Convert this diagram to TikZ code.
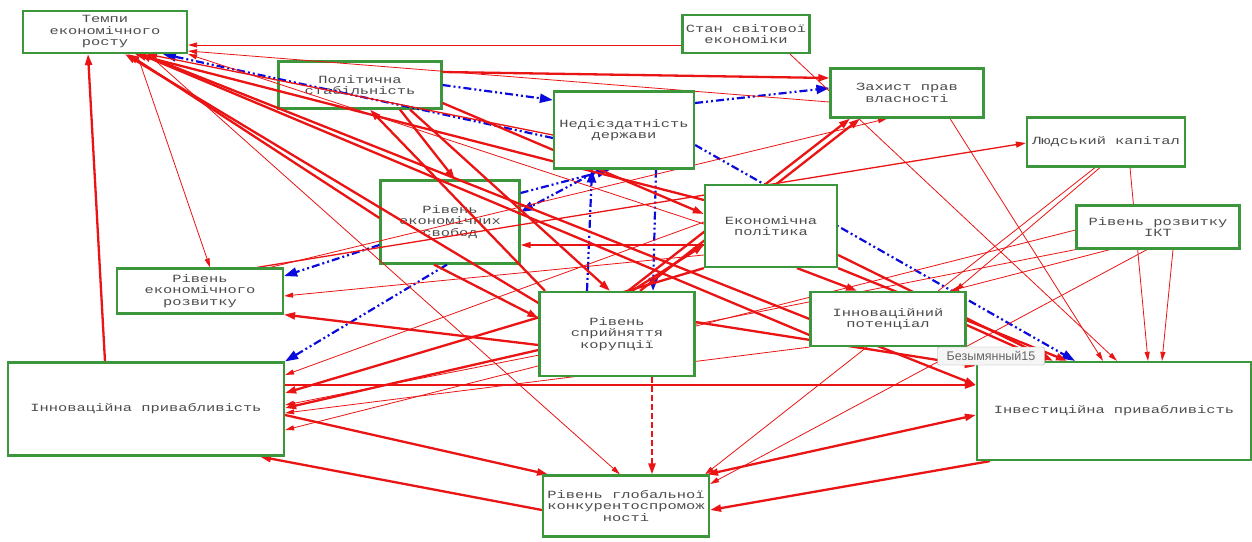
\documentclass[tikz,border=0pt]{standalone}
\usepackage{fontspec}
\setmainfont{Liberation Mono}[FakeStretch=1.4]
\newfontfamily\tipfont{Liberation Sans}
\usetikzlibrary{arrows.meta}
\definecolor{boxgreen}{RGB}{60,150,60}
\definecolor{lnred}{RGB}{235,20,20}
\definecolor{lnblue}{RGB}{10,10,220}
\pgfdeclarelayer{fg}
\pgfsetlayers{main,fg}
\begin{document}
\begin{tikzpicture}[x=1pt,y=-1pt,
  box/.style={draw=boxgreen, line width=2.2pt, fill=white, align=center, inner sep=1pt,
    font=\fontsize{11}{11.5}\selectfont, text=black!70},
  thk/.style={draw=lnred, line width=2.3pt, -{Triangle[length=11pt,width=7pt]}},
  thn/.style={draw=lnred, line width=0.8pt, -{Triangle[length=9pt,width=5pt]}},
  mid/.style={draw=lnred, line width=1.3pt, -{Triangle[length=10pt,width=6pt]}},
  blu/.style={draw=lnblue, line width=2.2pt, dash pattern=on 8pt off 3pt on 2pt off 3pt on 2pt off 3pt,
    -{Triangle[length=13pt,width=9pt]}},
  tip/.style={draw=gray!70, fill=gray!8, rounded corners=2pt, inner sep=1pt,
    font=\tipfont\fontsize{12.5}{13}\selectfont, text=black!60}
]
\fill[white] (0,0) rectangle (1252,541);
\useasboundingbox (0,0) rectangle (1252,541);

% boxes under the connectors
\node[box, minimum width=163pt, minimum height=47pt] (P) at (360,85) {Політична\\стабільність};
\node[box, minimum width=139pt, minimum height=83pt] (F) at (450,222) {Рівень\\економічних\\свобод};

% boxes above the connectors
\begin{pgfonlayer}{fg}
\node[box, minimum width=164pt, minimum height=42pt] (T) at (105,32) {Темпи\\економічного\\росту};
\node[box, minimum width=127pt, minimum height=38pt] (S) at (746,34) {Стан світової\\економіки};
\node[box, minimum width=140pt, minimum height=77pt] (N) at (624,130) {Недієздатність\\держави};
\node[box, minimum width=153pt, minimum height=49pt] (Z) at (907,93) {Захист прав\\власності};
\node[box, minimum width=158pt, minimum height=49pt] (L) at (1106,142) {Людський капітал};
\node[box, minimum width=132pt, minimum height=82pt] (E) at (771,226) {Економічна\\політика};
\node[box, minimum width=163pt, minimum height=43pt] (I) at (1158,227) {Рівень розвитку\\ІКТ};
\node[box, minimum width=166pt, minimum height=45pt] (D) at (200,291) {Рівень\\економічного\\розвитку};
\node[box, minimum width=155pt, minimum height=84pt] (K) at (617,334) {Рівень\\сприйняття\\корупції};
\node[box, minimum width=155pt, minimum height=54pt] (V) at (888,319) {Інноваційний\\потенціал};
\node[box, minimum width=276pt, minimum height=93pt] (A) at (146,409) {Інноваційна привабливість};
\node[box, minimum width=274pt, minimum height=98pt] (B) at (1114,411) {Інвестиційна привабливість};
\node[box, minimum width=166pt, minimum height=61pt] (G) at (626,506) {Рівень глобальної\\конкурентоспромож\\ності};
\node[tip, minimum width=107pt, minimum height=18pt] (tt) at (991,356) {Безымянный15};
\end{pgfonlayer}

% blue dash-dot connectors
\draw[blu] (P.east) -- ([yshift=30pt]N.west);
\draw[blu] ([yshift=-8pt]N.west) -- ([xshift=58pt]T.south);
\draw[blu] ([yshift=27pt]N.east) -- ([yshift=5pt]Z.west);
\draw[blu] ([yshift=-15pt]N.east) -- ([xshift=-39pt]B.north);
\draw[blu] ([xshift=32pt]N.south) -- ([xshift=36pt]K.north);
\draw[blu] ([xshift=-30pt]K.north) -- ([xshift=-32pt]N.south);
\draw[blu] ([xshift=-24pt]N.south) -- ([yshift=10pt]F.east);
\draw[blu] ([yshift=29pt]F.east) -- ([xshift=-14pt]N.south);
\draw[blu] ([yshift=-23pt]F.west) -- ([yshift=15pt]D.east);
\draw[blu] ([xshift=-3pt]F.south) -- (A.north east);

% red dashed
\draw[thk, dash pattern=on 6pt off 3pt] ([xshift=35pt]K.south) -- ([xshift=26pt]G.north);

% thin red
\draw[thn] ([yshift=-11pt]S.west) -- ([yshift=-13pt]T.east);
\draw[thn] ([yshift=-9pt]Z.west) -- ([yshift=-19pt]T.east);
\draw[thn] ([xshift=44pt]S.south) -- ([xshift=3pt]B.north);
\draw[thn] ([xshift=43pt]Z.south) -- ([xshift=-11pt]B.north);
\draw[thn] ([xshift=24pt]L.south) -- ([xshift=34pt]B.north);
\draw[thn] ([xshift=15pt]I.south) -- ([xshift=48pt]B.north);
\draw[thn] ([xshift=-11pt]I.south) -- ([yshift=22pt]G.east);
\draw[thn] ([xshift=-6pt]L.south) -- ([xshift=67pt]V.north);
\draw[thn] ([xshift=-48pt]I.south) -- ([xshift=62pt]V.north);
\draw[thn] (I.south west) -- ([yshift=4pt]A.east);
\draw[thn] ([yshift=-3pt]I.west) -- ([yshift=-21pt]A.east);
\draw[thn] ([xshift=32pt]T.south) -- ([xshift=10pt]D.north);
\draw[thn] ([xshift=43pt]T.south) -- ([xshift=-6pt]G.north);
\draw[thn] ([xshift=-11pt]L.south) -- ([xshift=79pt]G.north);
\draw[thn] ([yshift=4pt]E.west) -- ([yshift=34pt]A.east);
\draw[mid] ([xshift=57pt]D.north) -- ([yshift=-1pt]L.west);
\draw[thn] ([xshift=70pt]D.north) -- ([xshift=-20pt]Z.south);
\draw[mid] ([yshift=-19pt]E.west) -- ([yshift=-23pt]F.east);
\draw[thn] ([yshift=-29pt]E.west) -- ([yshift=-5pt]D.east);
\draw[thn] (V.south west) -- ([yshift=-4pt]A.east);
\draw[thn] ([yshift=2pt]E.west) -- (T.south east);

% thick red
\draw[thk] ([xshift=-41pt]A.north) -- ([xshift=-17pt]T.south);
\draw[thk] ([yshift=4pt]F.west) -- ([xshift=23pt]T.south);
\draw[thk] ([yshift=31pt]K.west) -- ([xshift=20pt]T.south);
\draw[thk] ([yshift=26pt]E.west) -- ([xshift=30pt]T.south);
\draw[thk] ([yshift=-16pt]V.west) -- ([xshift=35pt]T.south);
\draw[mid] ([yshift=-5pt]N.west) -- ([xshift=42pt]T.south);
\draw[thk] ([xshift=37pt]T.south) -- ([yshift=26pt]B.west);
\draw[thk] ([yshift=13pt]P.east) -- ([yshift=15pt]Z.west);
\draw[thk] ([xshift=40pt]P.south) -- ([xshift=5pt]F.north);
\draw[thk] ([xshift=50pt]P.south) -- ([xshift=-7pt]K.north);
\draw[thk] ([xshift=-72pt]K.north) -- ([xshift=10pt]P.south);
\draw[thk] ([yshift=-18pt]P.east) -- ([yshift=12pt]E.west);
\draw[thk] ([xshift=11pt]K.north) -- ([xshift=-57pt]Z.south);
\draw[thk] ([xshift=23pt]K.north) -- ([xshift=-47pt]Z.south);
\draw[thk] ([xshift=15pt]K.north) -- ([yshift=-19pt]E.west);
\draw[thk] ([yshift=-29pt]E.east) -- ([xshift=-61pt]B.north);
\draw[thk] (E.south east) -- ([xshift=-47pt]B.north);
\draw[thk] ([yshift=-6pt]V.east) -- ([xshift=-67pt]B.north);
\draw[thk] ([xshift=26pt]E.south) -- ([xshift=-31pt]V.north);
\draw[thk] ([yshift=12pt]K.east) -- ([yshift=45pt]B.west);
\draw[thk] ([xshift=-16pt]F.south) -- ([yshift=16pt]K.west);
\draw[thk] ([yshift=-11pt]K.west) -- (D.south east);
\draw[thk] (E.south west) -- ([yshift=16pt]A.east);
\draw[thk] ([yshift=-16pt]K.west) -- ([yshift=1pt]A.east);
\draw[thk] ([yshift=24pt]A.east) -- ([yshift=26pt]B.west);
\draw[thk] ([yshift=-6pt]A.east) -- ([xshift=-78pt]G.north);
\draw[thk] ([yshift=-4pt]G.west) -- ([xshift=114pt]A.south);
\draw[thk] ([xshift=-124pt]B.south) -- ([yshift=-4pt]G.east);
\draw[thk, {Triangle[length=11pt,width=7pt]}-{Triangle[length=11pt,width=7pt]}]
  ([xshift=81pt]G.north) -- ([yshift=-4pt]B.west);
\end{tikzpicture}
\end{document}
